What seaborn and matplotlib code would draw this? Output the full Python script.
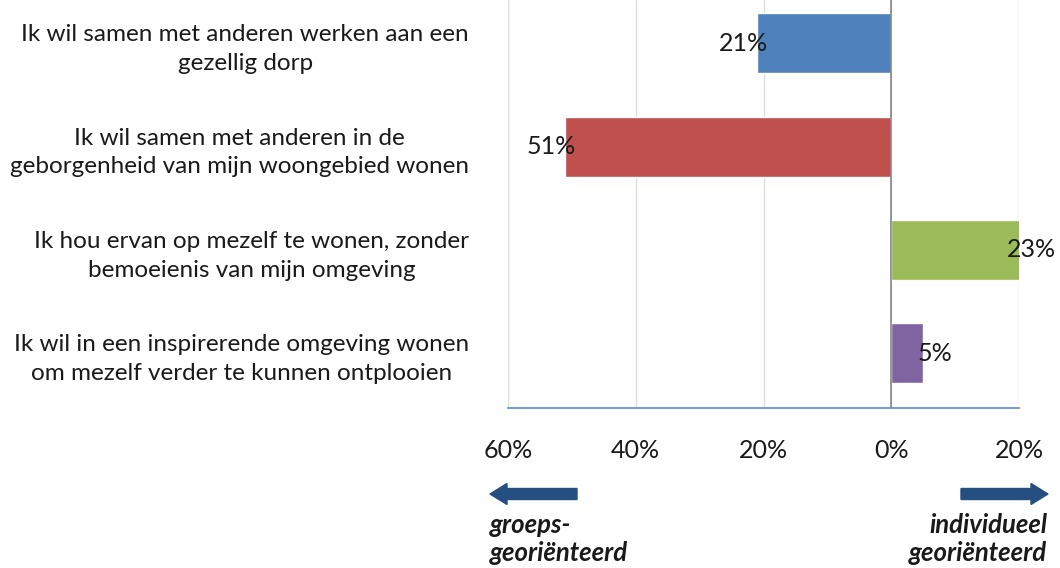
import matplotlib
matplotlib.use("Agg")
import matplotlib.pyplot as plt
from matplotlib.patches import FancyArrow
from matplotlib.ticker import FuncFormatter
import seaborn as sns
import pandas as pd

statements = [
    "Ik wil samen met anderen werken aan een\ngezellig dorp",
    "Ik wil samen met anderen in de\ngeborgenheid van mijn woongebied wonen",
    "Ik hou ervan op mezelf te wonen, zonder\nbemoeienis van mijn omgeving",
    "Ik wil in een inspirerende omgeving wonen\nom mezelf verder te kunnen ontplooien",
]
# negative = group oriented, positive = individually oriented
scores = [-21, -51, 23, 5]
bar_colors = ["#4F81BD", "#C0504D", "#9BBB59", "#8064A2"]
ticks = [-60, -40, -20, 0, 20]
left_note = "groeps-\ngeoriënteerd"
right_note = "individueel\ngeoriënteerd"

df = pd.DataFrame({"statement": statements, "score": scores})

sns.set_style("white")
plt.rcParams["font.family"] = ["Lato", "DejaVu Sans"]

W, H = 1060, 568
fig = plt.figure(figsize=(W / 100, H / 100), dpi=100)
ax = fig.add_axes([508 / W, 160 / H, (1019 - 508) / W, 408 / H])

sns.barplot(data=df, x="score", y="statement", hue="statement",
            palette=bar_colors, orient="h", width=0.58, legend=False,
            saturation=1, ax=ax)

xmin, xmax = -60, 20
ax.set_xlim(xmin, xmax)
ax.set_ylim(3.53, -0.42)
ax.set_xticks(ticks)
ax.xaxis.set_major_formatter(FuncFormatter(lambda v, p: f"{abs(v):.0f}%"))
ax.grid(axis="x", color="#DDDDDD", lw=1)
ax.set_axisbelow(True)
ax.axvline(0, color="#868686", lw=1.2, zorder=3)

for s in ["top", "right", "left"]:
    ax.spines[s].set_visible(False)
ax.spines["bottom"].set_color("#5B8BC9")
ax.spines["bottom"].set_linewidth(1.2)
ax.tick_params(axis="x", direction="out", length=8, width=1.2,
               color="#5B8BC9", labelsize=18, pad=14, labelcolor="#1a1a1a")
ax.tick_params(axis="y", length=0, labelsize=17.5, pad=28, labelcolor="#1a1a1a")
for lab in ax.get_yticklabels():
    lab.set_multialignment("center")
    lab.set_linespacing(1.45)
ax.set_xlabel("")
ax.set_ylabel("")

for i, v in enumerate(scores):
    xpos = min(max(v, xmin), xmax)
    off = 12 if v > 0 else -14
    ax.annotate(f"{abs(v)}%", (xpos, i), xytext=(off, 0),
                textcoords="offset pixels", ha="center", va="center",
                fontsize=18, color="#1a1a1a", annotation_clip=False)

arrow_col = "#254F80"
fig.patches.append(FancyArrow(577 / W, 74 / H, -70 / W, 0, width=11 / H,
                              head_width=21 / H, head_length=17 / W,
                              length_includes_head=False, color=arrow_col,
                              transform=fig.transFigure, figure=fig))
fig.patches.append(FancyArrow(961 / W, 74 / H, 70 / W, 0, width=11 / H,
                              head_width=21 / H, head_length=17 / W,
                              length_includes_head=False, color=arrow_col,
                              transform=fig.transFigure, figure=fig))

fig.text(490 / W, 29 / H, left_note, ha="left", va="center", fontsize=18.5,
         fontstyle="italic", fontweight="bold", linespacing=1.2,
         color="#1a1a1a")
fig.text(1047 / W, 29 / H, right_note, ha="right", va="center", fontsize=18.5,
         fontstyle="italic", fontweight="bold", linespacing=1.2,
         multialignment="right", color="#1a1a1a")

fig.savefig("out.png", dpi=100)
